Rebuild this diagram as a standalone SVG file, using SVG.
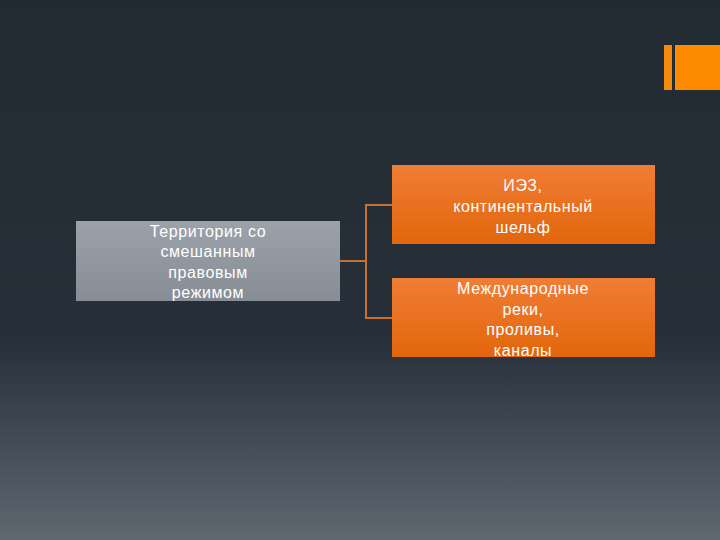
<svg xmlns="http://www.w3.org/2000/svg" width="720" height="540" viewBox="0 0 720 540">
<defs>
<linearGradient id="bg" x1="0" y1="0" x2="0" y2="1">
<stop offset="0" stop-color="#222a32"/>
<stop offset="0.63" stop-color="#27303a"/>
<stop offset="1" stop-color="#5f6871"/>
</linearGradient>
<linearGradient id="gray" x1="0" y1="0" x2="0" y2="1">
<stop offset="0" stop-color="#9ca2aa"/>
<stop offset="1" stop-color="#878d95"/>
</linearGradient>
<linearGradient id="orange" x1="0" y1="0" x2="0" y2="1">
<stop offset="0" stop-color="#f07d36"/>
<stop offset="1" stop-color="#e2660b"/>
</linearGradient>
</defs>
<style>
.t{font-family:"Liberation Sans",Arial,sans-serif;font-size:16px;letter-spacing:0.6px;fill:#ffffff;text-anchor:middle}
.c{fill:none;stroke:#c8712e;stroke-width:2}
</style>
<rect width="720" height="540" fill="url(#bg)"/>
<g id="decor">
<rect x="664" y="45" width="8" height="45" fill="#f58a0f"/>
<rect x="675" y="45" width="45" height="45" fill="#ff8c00"/>
</g>
<g id="connectors">
<polyline class="c" points="340,261 366,261"/>
<polyline class="c" points="392,205 366,205 366,318 392,318"/>
</g>
<g id="n1">
<rect x="76" y="221" width="264" height="80" fill="url(#gray)"/>
<text class="t" x="208" y="237">Территория со</text>
<text class="t" x="208" y="257">смешанным</text>
<text class="t" x="208" y="278">правовым</text>
<text class="t" x="208" y="298">режимом</text>
</g>
<g id="n2">
<rect x="392" y="165" width="263" height="79" fill="url(#orange)"/>
<text class="t" x="523" y="191">ИЭЗ,</text>
<text class="t" x="523" y="212">континентальный</text>
<text class="t" x="523" y="233">шельф</text>
</g>
<g id="n3">
<rect x="392" y="278" width="263" height="79" fill="url(#orange)"/>
<text class="t" x="523" y="294">Международные</text>
<text class="t" x="523" y="315">реки,</text>
<text class="t" x="523" y="335">проливы,</text>
<text class="t" x="523" y="356">каналы</text>
</g>
</svg>
